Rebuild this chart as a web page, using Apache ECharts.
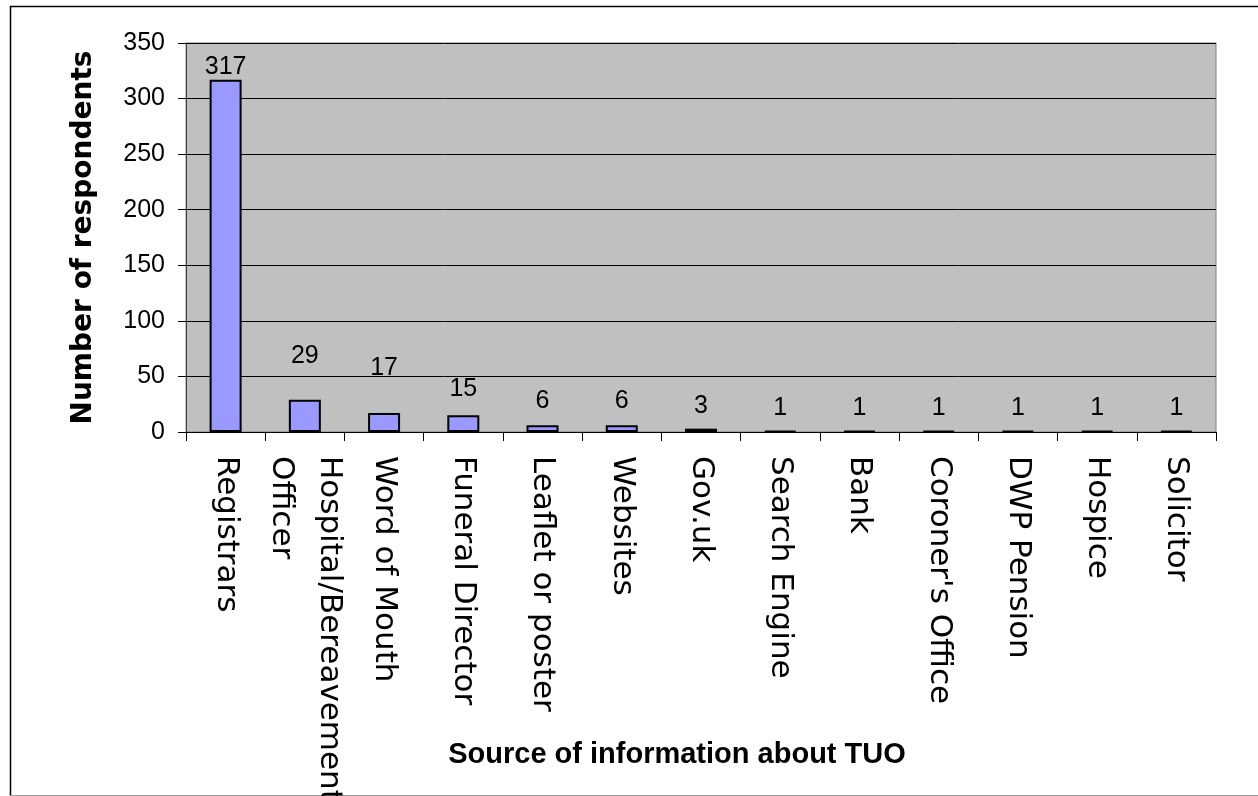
<!DOCTYPE html>
<html>
<head>
<meta charset="utf-8">
<script src="https://cdn.jsdelivr.net/npm/echarts@6/dist/echarts.min.js"></script>
<style>
html,body{margin:0;padding:0;background:#fff;overflow:hidden;}
#chart{width:1258px;height:796px;}
</style>
</head>
<body>
<div id="chart"></div>
<script>
const categories = ['Registrars', 'Hospital/Bereavement\nOfficer', 'Word of Mouth', 'Funeral Director', 'Leaflet or poster', 'Websites', 'Gov.uk', 'Search Engine', 'Bank', "Coroner's Office", 'DWP Pension', 'Hospice', 'Solicitor'];
const respondents = [317, 29, 17, 15, 6, 6, 3, 1, 1, 1, 1, 1, 1];
const xTitle = 'Source of information about TUO';
const yTitle = 'Number of respondents';

// label gap tweaks (Excel placed a few labels differently)
const labelGap = {0: 0, 1: 31, 2: 32, 3: 14, 4: 12, 5: 12};

const chart = echarts.init(document.getElementById('chart'), null, {renderer: 'canvas'});
const seriesData = respondents.map((v, i) => ({
  value: v,
  label: {distance: labelGap[i] !== undefined ? labelGap[i] : 10}
}));

chart.setOption({
  animation: false,
  backgroundColor: '#ffffff',
  graphic: [
    {type: 'line', shape: {x1: 10, y1: 6.5, x2: 1258, y2: 6.5}, style: {stroke: '#000', lineWidth: 1.5}},
    {type: 'line', shape: {x1: 10.5, y1: 6, x2: 10.5, y2: 796}, style: {stroke: '#000', lineWidth: 1.5}},
    {type: 'line', shape: {x1: 10, y1: 795.5, x2: 1258, y2: 795.5}, style: {stroke: '#999', lineWidth: 1}}
  ],
  grid: {
    left: 186, right: 42, top: 43, bottom: 364,
    containLabel: false, outerBoundsMode: 'none',
    show: true, backgroundColor: '#C0C0C0', borderColor: '#808080', borderWidth: 1
  },
  xAxis: {
    type: 'category',
    data: categories,
    boundaryGap: true,
    name: xTitle,
    nameLocation: 'middle',
    nameMoveOverlap: false,
    nameGap: 308,
    nameTextStyle: {fontFamily: 'Liberation Sans, Arial, sans-serif', fontSize: 29, fontWeight: 'bold', color: '#000', padding: [0, 48, 0, 0]},
    axisLine: {show: true, lineStyle: {color: '#000', width: 1}},
    axisTick: {show: true, length: 9, lineStyle: {color: '#000'}},
    axisLabel: {
      interval: 0, rotate: -90, margin: 24, hideOverlap: false,
      fontFamily: 'DejaVu Sans, sans-serif', fontSize: 31, lineHeight: 48, color: '#000'
    },
    splitLine: {show: false}
  },
  yAxis: {
    type: 'value',
    min: 0, max: 350, interval: 50,
    name: yTitle,
    nameLocation: 'middle',
    nameMoveOverlap: false,
    nameGap: 88,
    nameTextStyle: {fontFamily: 'DejaVu Sans, sans-serif', fontSize: 28, fontWeight: 'bold', color: '#000'},
    axisLine: {show: true, lineStyle: {color: '#404040', width: 1}},
    axisTick: {show: true, length: 8, lineStyle: {color: '#000'}},
    axisLabel: {margin: 21, fontFamily: 'Liberation Sans, Arial, sans-serif', fontSize: 25, color: '#000'},
    splitLine: {show: true, lineStyle: {color: '#000', width: 1}}
  },
  series: [{
    type: 'bar',
    data: seriesData,
    barWidth: 32,
    itemStyle: {color: '#9999FF', borderColor: '#000', borderWidth: 2},
    label: {
      show: true, position: 'top',
      fontFamily: 'Liberation Sans, Arial, sans-serif', fontSize: 25, color: '#000'
    }
  }]
});
</script>
</body>
</html>
